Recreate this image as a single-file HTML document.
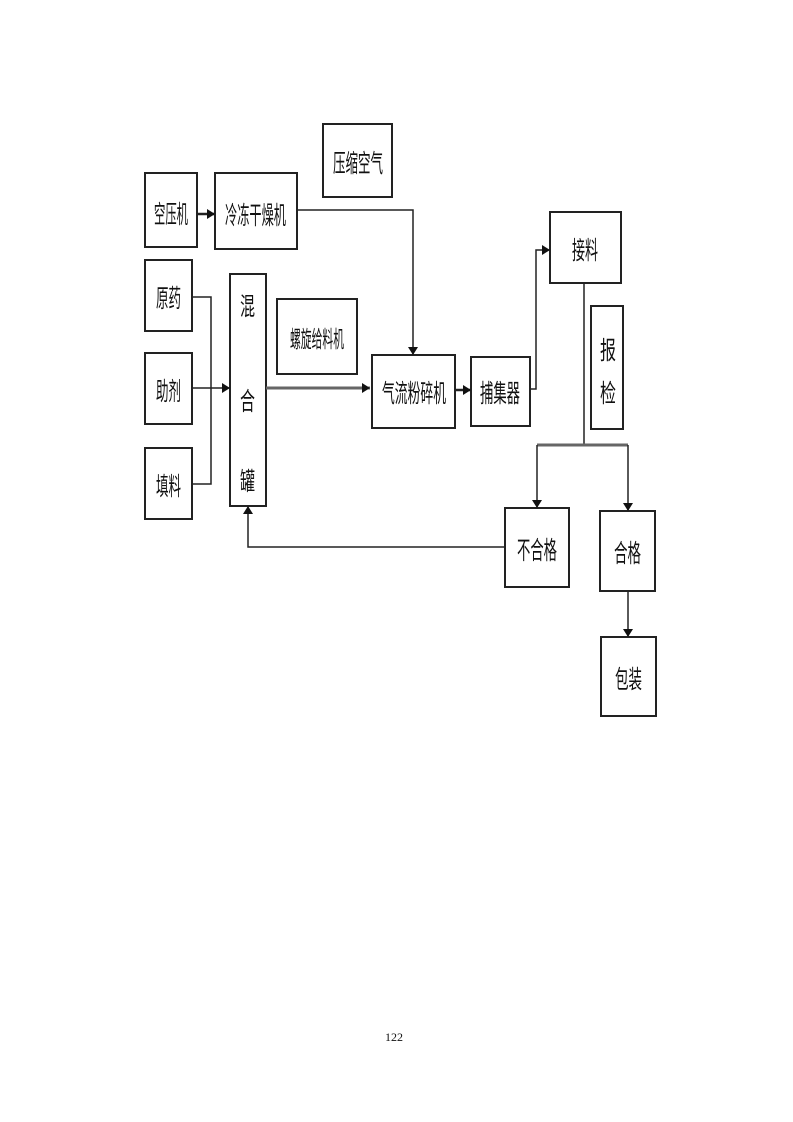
<!DOCTYPE html>
<html><head><meta charset="utf-8"><style>
html,body{margin:0;padding:0;background:#fff}
svg{display:block}
text{font-family:"Liberation Sans","Noto Sans CJK SC",sans-serif;fill:#111}
</style></head><body>
<svg width="793" height="1122" viewBox="0 0 793 1122" xmlns="http://www.w3.org/2000/svg">
<defs>
<marker id="a" markerWidth="8" markerHeight="10" refX="8" refY="5" orient="auto" markerUnits="userSpaceOnUse">
<path d="M0,0 L8,5 L0,10 z" fill="#111"/></marker>
</defs>
<g fill="none" stroke="#222" stroke-width="2">
<rect x="323" y="124" width="69" height="73"/>
<rect x="145" y="173" width="52" height="74"/>
<rect x="215" y="173" width="82" height="76"/>
<rect x="145" y="260" width="47" height="71"/>
<rect x="145" y="353" width="47" height="71"/>
<rect x="145" y="448" width="47" height="71"/>
<rect x="230" y="274" width="36" height="232"/>
<rect x="277" y="299" width="80" height="75"/>
<rect x="372" y="355" width="83" height="73"/>
<rect x="471" y="357" width="59" height="69"/>
<rect x="550" y="212" width="71" height="71"/>
<rect x="591" y="306" width="32" height="123"/>
<rect x="505" y="508" width="64" height="79"/>
<rect x="600" y="511" width="55" height="80"/>
<rect x="601" y="637" width="55" height="79"/>
</g>
<g fill="none" stroke="#222" stroke-width="1.5">
<line x1="197" y1="214" x2="215" y2="214" stroke-width="2.5" marker-end="url(#a)"/>
<polyline points="297,210 413,210 413,355" marker-end="url(#a)"/>
<polyline points="192,297 211,297 211,484 192,484"/>
<line x1="192" y1="388" x2="230" y2="388" marker-end="url(#a)"/>
<line x1="266" y1="388" x2="370" y2="388" stroke="#666" stroke-width="3" marker-end="url(#a)"/>
<line x1="455" y1="390" x2="471" y2="390" stroke-width="2.5" marker-end="url(#a)"/>
<polyline points="530,389 536,389 536,250 550,250" marker-end="url(#a)"/>
<line x1="584" y1="283" x2="584" y2="445"/>
<line x1="537" y1="445" x2="628" y2="445" stroke="#666" stroke-width="3"/>
<line x1="537" y1="445" x2="537" y2="508" marker-end="url(#a)"/>
<line x1="628" y1="445" x2="628" y2="511" marker-end="url(#a)"/>
<line x1="628" y1="591" x2="628" y2="637" marker-end="url(#a)"/>
<polyline points="505,547 248,547 248,506" marker-end="url(#a)"/>
</g>
<g font-size="25">
<text x="333" y="172" textLength="50" lengthAdjust="spacingAndGlyphs">压缩空气</text>
<text x="154" y="223" textLength="34" lengthAdjust="spacingAndGlyphs">空压机</text>
<text x="225" y="224" textLength="61" lengthAdjust="spacingAndGlyphs">冷冻干燥机</text>
<text x="156" y="307" textLength="25" lengthAdjust="spacingAndGlyphs">原药</text>
<text x="156" y="400" textLength="25" lengthAdjust="spacingAndGlyphs">助剂</text>
<text x="156" y="495" textLength="25" lengthAdjust="spacingAndGlyphs">填料</text>
<text x="240" y="315" textLength="15" lengthAdjust="spacingAndGlyphs">混</text>
<text x="240" y="410" textLength="15" lengthAdjust="spacingAndGlyphs">合</text>
<text x="240" y="490" textLength="15" lengthAdjust="spacingAndGlyphs">罐</text>
<text x="290" y="347" font-size="23" textLength="54" lengthAdjust="spacingAndGlyphs">螺旋给料机</text>
<text x="382" y="402" textLength="64" lengthAdjust="spacingAndGlyphs">气流粉碎机</text>
<text x="480" y="402" textLength="40" lengthAdjust="spacingAndGlyphs">捕集器</text>
<text x="572" y="259" textLength="26" lengthAdjust="spacingAndGlyphs">接料</text>
<text x="600" y="359" textLength="16" lengthAdjust="spacingAndGlyphs">报</text>
<text x="600" y="402" textLength="16" lengthAdjust="spacingAndGlyphs">检</text>
<text x="517" y="559" textLength="40" lengthAdjust="spacingAndGlyphs">不合格</text>
<text x="614" y="562" textLength="27" lengthAdjust="spacingAndGlyphs">合格</text>
<text x="615" y="688" textLength="27" lengthAdjust="spacingAndGlyphs">包装</text>
</g>
<text x="385" y="1041" font-size="12" style="font-family:'Liberation Serif',serif">122</text>
</svg>
</body></html>
